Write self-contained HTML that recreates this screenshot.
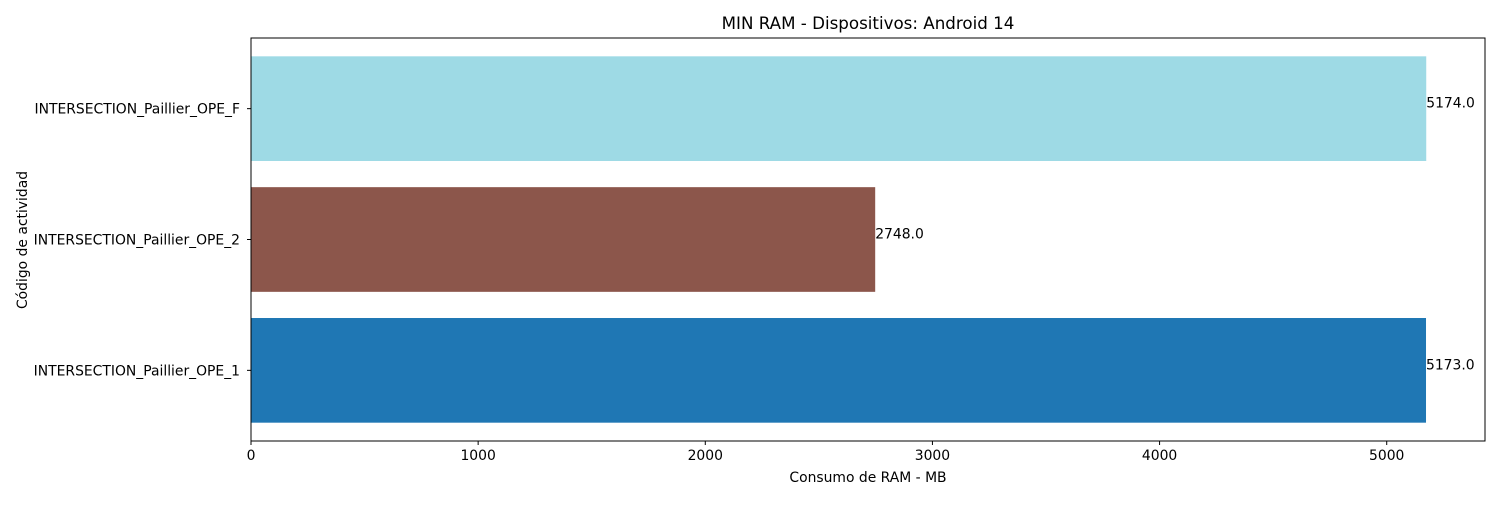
<!DOCTYPE html>
<html><head><meta charset="utf-8"><style>
body{margin:0;background:#fff;font-family:"Liberation Sans","DejaVu Sans",sans-serif;}
svg text{font-family:"DejaVu Sans","Liberation Sans",sans-serif;}
</style></head><body>
<svg id="chart" width="1500" height="500" xmlns="http://www.w3.org/2000/svg">
<rect width="1500" height="500" fill="#fff"/>
</svg>
<script>
const categories=["INTERSECTION_Paillier_OPE_1","INTERSECTION_Paillier_OPE_2","INTERSECTION_Paillier_OPE_F"];
const values=[5173.0,2748.0,5174.0];
const colors=["#1f77b4","#8c564b","#9edae5"];
const xTicks=[0,1000,2000,3000,4000,5000];
const NS="http://www.w3.org/2000/svg";
const svg=document.getElementById('chart');
const L=251,R=1485,T=38,B=441;
const xMax=Math.max(...values)*1.05;
const x=v=>L+v/xMax*(R-L);
const n=categories.length;
const span=(n-1)+0.8;
const yMin=-0.4-0.05*span,yMax=n-1+0.4+0.05*span;
const y=i=>B-(i-yMin)/(yMax-yMin)*(B-T);
function el(tag,attrs,text){const e=document.createElementNS(NS,tag);for(const k in attrs)e.setAttribute(k,attrs[k]);if(text!==undefined)e.textContent=text;svg.appendChild(e);return e;}
const bh=(y(0)-y(1))*0.8;
categories.forEach((c,i)=>{
 const b=el('rect',{x:L,y:y(i)-bh/2,width:x(values[i])-L,height:bh,fill:colors[i]});
 
 
 const t=el('text',{x:x(values[i]),y:y(i)-1,'font-size':13.9,fill:'#000'},values[i].toFixed(1));
 
 
 el('line',{x1:L-4,x2:L,y1:y(i),y2:y(i),stroke:'#000'});
 const cl=el('text',{x:L-11,y:y(i)+5,'font-size':13.9,'text-anchor':'end'},c);
 
 
});
xTicks.forEach(v=>{
 el('line',{x1:x(v),x2:x(v),y1:B,y2:B+4,stroke:'#000'});
 const t=el('text',{x:x(v),y:B+19,'font-size':13.9,'text-anchor':'middle'},String(v));
 
 
});
const f=el('rect',{x:L,y:T,width:R-L,height:B-T,fill:'none',stroke:'#000','stroke-width':1});


const ti=el('text',{x:(L+R)/2,y:29,'font-size':16.7,'text-anchor':'middle'},'MIN RAM - Dispositivos: Android 14');


const xt=el('text',{x:(L+R)/2,y:482,'font-size':13.9,'text-anchor':'middle'},'Consumo de RAM - MB');


const yt=el('text',{x:0,y:0,'font-size':13.9,'text-anchor':'middle',transform:'translate(27,240) rotate(-90)'},'Código de actividad');


</script>
</body></html>
